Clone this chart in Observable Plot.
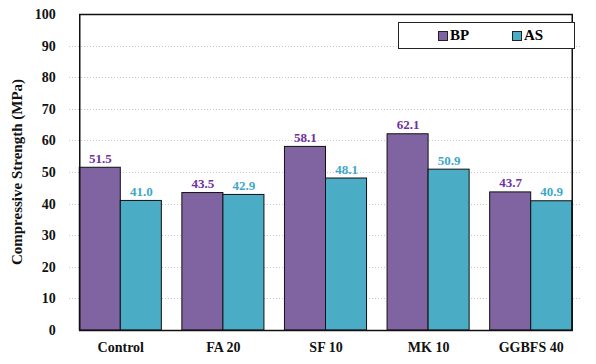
<!DOCTYPE html>
<html>
<head>
<meta charset="utf-8">
<script src="https://cdn.jsdelivr.net/npm/d3@7"></script>
<script src="https://cdn.jsdelivr.net/npm/@observablehq/plot@0.6"></script>
<style>
  html, body { margin: 0; padding: 0; background: #fff; }
  #wrap { position: relative; width: 596px; height: 364px; }
  #legend {
    position: absolute; left: 398px; top: 22px; width: 177px; height: 27px;
    border: 1.5px solid #222; background: #fff; box-sizing: border-box;
    font-family: "Liberation Serif", "Times New Roman", serif; font-weight: bold; font-size: 15px;
  }
  .item { position: absolute; top: 4px; display: flex; align-items: center; gap: 2px; }
  .sw { width: 8px; height: 8px; border: 1px solid #222; display: inline-block; }
</style>
</head>
<body>
<div id="wrap"></div>
<script>
const categories = ["Control", "FA 20", "SF 10", "MK 10", "GGBFS 40"];
const series = ["BP", "AS"];
const bpValues = [51.5, 43.5, 58.1, 62.1, 43.7];
const asValues = [41.0, 42.9, 48.1, 50.9, 40.9];
const yTicks = [0, 10, 20, 30, 40, 50, 60, 70, 80, 90, 100];
const seriesColors = ["#8064A2", "#4BACC6"];
const labelColors = ["#7030A0", "#3EA7C9"];

const data = categories.flatMap((c, i) => [
  {category: c, series: "BP", value: bpValues[i]},
  {category: c, series: "AS", value: asValues[i]}
]);
const labelColor = d => labelColors[series.indexOf(d.series)];

const chart = Plot.plot({
  width: 596,
  height: 364,
  marginLeft: 69,
  marginRight: 14,
  marginTop: 14,
  marginBottom: 34,
  style: {fontFamily: "'Liberation Serif', 'Times New Roman', serif", fontWeight: "bold", fontSize: "13px", color: "#111", background: "#fff"},
  fx: {domain: categories, paddingInner: 0.2, paddingOuter: 0.1, round: false, label: null},
  x: {domain: series, padding: 0, round: false, axis: null},
  y: {domain: [0, 100], label: null},
  color: {domain: series, range: seriesColors},
  marks: [
    Plot.barY(data, {fx: "category", x: "series", y: "value", fill: "series", stroke: "#111", strokeWidth: 1}),
    Plot.text(data, {fx: "category", x: "series", y: "value", text: d => d.value.toFixed(1), fill: labelColor, lineAnchor: "bottom", dy: -5, fontSize: 13, fontWeight: "bold"}),
    Plot.axisY(yTicks, {tickSize: 0, dx: -15, fontSize: 14, label: null}),
    Plot.axisFx({anchor: "bottom", tickSize: 0, tickPadding: 12, fontSize: 14, label: null}),
    Plot.frame({facet: "super", stroke: "#111", strokeWidth: 1.5})
  ]
});

const wrap = document.getElementById("wrap");
wrap.appendChild(chart);
const svg = d3.select(chart.tagName.toLowerCase() === "svg" ? chart : chart.querySelector("svg"));

// continuous faint gridlines across the whole plot, positioned by Plot's own y scale
const yScale = chart.scale("y");
const left = 69, right = 596 - 14;
const grid = svg.insert("g", ":first-child").attr("stroke", "#c8c8c8").attr("stroke-dasharray", "1,2");
yTicks.slice(1, -1).forEach(t => {
  const yy = Math.round(yScale.apply(t)) + 0.5;
  grid.append("line").attr("x1", left).attr("x2", right).attr("y1", yy).attr("y2", yy);
});

// y-axis title
svg.append("text")
  .attr("transform", "translate(19,172) rotate(-90)")
  .attr("text-anchor", "middle")
  .attr("dominant-baseline", "middle")
  .attr("font-family", "'Liberation Serif', 'Times New Roman', serif")
  .attr("font-weight", "bold")
  .attr("font-size", 15)
  .attr("fill", "#111")
  .text("Compressive Strength (MPa)");

// legend
const legend = document.createElement("div");
legend.id = "legend";
const lefts = [39, 113];
series.forEach((s, i) => {
  const item = document.createElement("div");
  item.className = "item";
  item.style.left = lefts[i] + "px";
  const sw = document.createElement("span");
  sw.className = "sw";
  sw.style.background = seriesColors[i];
  const t = document.createElement("span");
  t.textContent = s;
  item.appendChild(sw);
  item.appendChild(t);
  legend.appendChild(item);
});
wrap.appendChild(legend);
</script>
</body>
</html>
